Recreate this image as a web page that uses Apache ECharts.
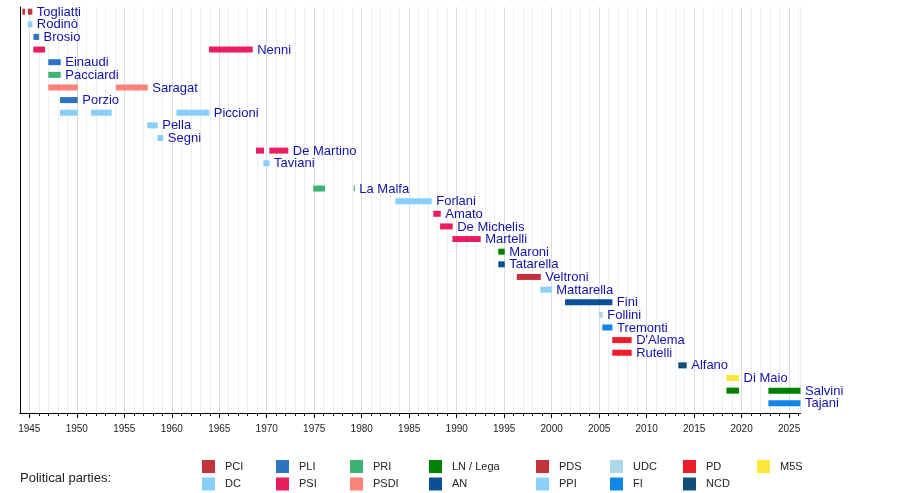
<!DOCTYPE html>
<html>
<head>
<meta charset="utf-8">
<script src="https://cdn.jsdelivr.net/npm/echarts@6/dist/echarts.min.js"></script>
<style>html,body{margin:0;padding:0;background:#fff}#c{width:900px;height:493px}</style>
</head>
<body>
<div id="c"></div>
<script>
// Rows (top to bottom); '' is an empty row
const people = ['Togliatti','Rodinò','Brosio','Nenni','Einaudi','Pacciardi','Saragat','Porzio','Piccioni','Pella','Segni','De Martino','Taviani','','La Malfa','Forlani','Amato','De Michelis','Martelli','Maroni','Tatarella','Veltroni','Mattarella','Fini','Follini','Tremonti',"D'Alema",'Rutelli','Alfano','Di Maio','Salvini','Tajani'];

// Terms per party: [person, start year, end year]
const PCI  = [['Togliatti',1944.27,1944.55],['Togliatti',1944.85,1945.32]];
const DC   = [['Rodinò',1944.85,1945.32],['Piccioni',1948.23,1950.1],['Piccioni',1951.5,1953.68],['Piccioni',1960.5,1963.95],['Pella',1957.42,1958.52],['Segni',1958.5,1959.11],['Taviani',1969.65,1970.3],['Forlani',1983.54,1987.37]];
const PLI  = [['Brosio',1945.44,1946.03],['Einaudi',1947.0,1948.31],['Porzio',1948.23,1950.1]];
const PSI  = [['Nenni',1945.42,1946.65],['Nenni',1963.92,1968.52],['De Martino',1968.87,1969.71],['De Martino',1970.27,1972.27],['Amato',1987.54,1988.32],['De Michelis',1988.25,1989.58],['Martelli',1989.54,1992.53]];
const PRI  = [['Pacciardi',1947.0,1948.31],['La Malfa',1974.9,1976.14],['La Malfa',1979.15,1979.27]];
const PSDI = [['Saragat',1947.0,1950.1],['Saragat',1954.13,1957.47]];
const LN   = [['Maroni',1994.38,1995.06],['Salvini',2018.4,2019.73],['Salvini',2022.82,2026.2]];
const AN   = [['Tatarella',1994.38,1995.06],['Fini',2001.41,2006.39]];
const PDS  = [['Veltroni',1996.32,1998.86]];
const PPI  = [['Mattarella',1998.8,2000.0]];
const UDC  = [['Follini',2004.96,2005.38]];
const FI   = [['Tremonti',2005.33,2006.4],['Tajani',2022.82,2026.2]];
const PD   = [["D'Alema",2006.38,2008.42],['Rutelli',2006.38,2008.42]];
const NCD  = [['Alfano',2013.33,2014.22]];
const M5S  = [['Di Maio',2018.4,2019.73]];

const partyNames = ['PCI','DC','PLI','PSI','PRI','PSDI','LN / Lega','AN','PDS','PPI','UDC','FI','PD','NCD','M5S'];
const partyTerms = [PCI,DC,PLI,PSI,PRI,PSDI,LN,AN,PDS,PPI,UDC,FI,PD,NCD,M5S];
const partyColors = ['#c4323a','#87cefa','#2e72c2','#e91e5e','#3cb371','#f98279','#008000','#0c4f99','#c3313b','#8ccff8','#add8e6','#0f87e8','#ed1c2a','#114f79','#fbe73a'];

// Legend layout: columns of [top, bottom]
const legendColumns = [['PCI','DC'],['PLI','PSI'],['PRI','PSDI'],['LN / Lega','AN'],['PDS','PPI'],['UDC','FI'],['PD','NCD'],['M5S']];
const legendLeft = [202,276,350,429,536,610,683,757];

const FONT = '"Liberation Sans", Arial, sans-serif';

// horizontal scale: 1944 .. 2026.2 across the plot
const X_MIN = 1944, X_MAX = 2026.2;
const PLOT_LEFT = 19.8, PLOT_RIGHT = 800.5;
const PX_PER_YEAR = (PLOT_RIGHT - PLOT_LEFT) / (X_MAX - X_MIN);
const MAJOR_MIN = 1945, MAJOR_MAX = 2025;

// label data: rightmost end per person
const lastEnd = {};
partyTerms.forEach(terms => terms.forEach(t => {
  if (lastEnd[t[0]] === undefined || t[2] > lastEnd[t[0]]) lastEnd[t[0]] = t[2];
}));
const labelData = people.map((p, i) => p ? [i, lastEnd[p], p] : null).filter(Boolean);

const BAR_H = 6;
function barRender(params, api) {
  const s = api.coord([api.value(1), api.value(0)]);
  const e = api.coord([api.value(2), api.value(0)]);
  return {
    type: 'rect',
    shape: { x: s[0], y: s[1] - BAR_H / 2, width: Math.max(e[0] - s[0], 1), height: BAR_H },
    style: { fill: api.visual('color') }
  };
}

const series = partyNames.map((name, k) => ({
  name: name,
  type: 'custom',
  renderItem: barRender,
  itemStyle: { color: partyColors[k] },
  encode: { x: [1, 2], y: 0 },
  data: partyTerms[k].map(t => [people.indexOf(t[0]), t[1], t[2]]),
  animation: false,
  silent: true
}));

series.push({
  name: 'labels',
  type: 'custom',
  encode: { x: 1, y: 0 },
  data: labelData,
  animation: false,
  silent: true,
  renderItem: function (params, api) {
    const p = api.coord([api.value(1), api.value(0)]);
    return {
      type: 'text',
      style: {
        text: labelData[params.dataIndex][2],
        x: p[0] + 4.5, y: p[1] + 0.5,
        fill: '#1212a8',
        font: '13px ' + FONT,
        verticalAlign: 'middle', align: 'left'
      }
    };
  }
});

const legends = legendColumns.map((col, i) => ({
  left: legendLeft[i], top: 460,
  orient: 'vertical',
  padding: 0,
  itemWidth: 13, itemHeight: 13, itemGap: 4.5,
  icon: 'rect',
  selectedMode: false,
  data: col,
  textStyle: { fontSize: 11, color: '#222', fontFamily: FONT, padding: [0, 0, 0, 5] }
}));

// second (tick-only) grid spans 1945..2025 on the same pixel scale, for the longer 5-year ticks
const majorLeft = PLOT_LEFT + (MAJOR_MIN - X_MIN) * PX_PER_YEAR;
const majorRight = PLOT_LEFT + (MAJOR_MAX - X_MIN) * PX_PER_YEAR;

const chart = echarts.init(document.getElementById('c'), null, { renderer: 'canvas' });
chart.setOption({
  animation: false,
  backgroundColor: '#fff',
  title: {
    text: 'Political parties:', left: 20, top: 472, padding: 0,
    textStyle: { fontSize: 13, fontWeight: 'normal', color: '#222', fontFamily: FONT }
  },
  legend: legends,
  grid: [
    { left: PLOT_LEFT, right: 900 - PLOT_RIGHT, top: 7, bottom: 80, containLabel: false },
    { left: majorLeft, right: 900 - majorRight, top: 7, bottom: 80, containLabel: false }
  ],
  xAxis: [{
    gridIndex: 0,
    type: 'value', min: X_MIN, max: X_MAX, interval: 1, position: 'bottom',
    axisLine: { show: true, onZero: false, lineStyle: { color: '#000', width: 1 } },
    axisTick: { show: true, length: 3, lineStyle: { color: '#000' } },
    axisLabel: {
      margin: 11, fontSize: 10, color: '#222', fontFamily: FONT,
      showMinLabel: false, showMaxLabel: false,
      formatter: v => (Math.round(v) === v && v % 5 === 0) ? String(v) : ''
    },
    splitLine: { show: true, lineStyle: { color: ['#efefef', '#dcdcdc', '#efefef', '#efefef', '#efefef'], width: 1 } }
  }, {
    gridIndex: 1,
    type: 'value', min: MAJOR_MIN, max: MAJOR_MAX, interval: 5, position: 'bottom',
    axisLine: { show: false },
    axisTick: { show: true, length: 5, lineStyle: { color: '#000' } },
    axisLabel: { show: false },
    splitLine: { show: false }
  }],
  yAxis: [{
    gridIndex: 0,
    type: 'value', inverse: true, min: -0.37, max: 31.77,
    axisLine: { show: true, onZero: false, lineStyle: { color: '#000', width: 1 } },
    axisTick: { show: false }, axisLabel: { show: false }, splitLine: { show: false }
  }, {
    gridIndex: 1, type: 'value', show: false, min: 0, max: 1
  }],
  series: series
});
</script>
</body>
</html>
